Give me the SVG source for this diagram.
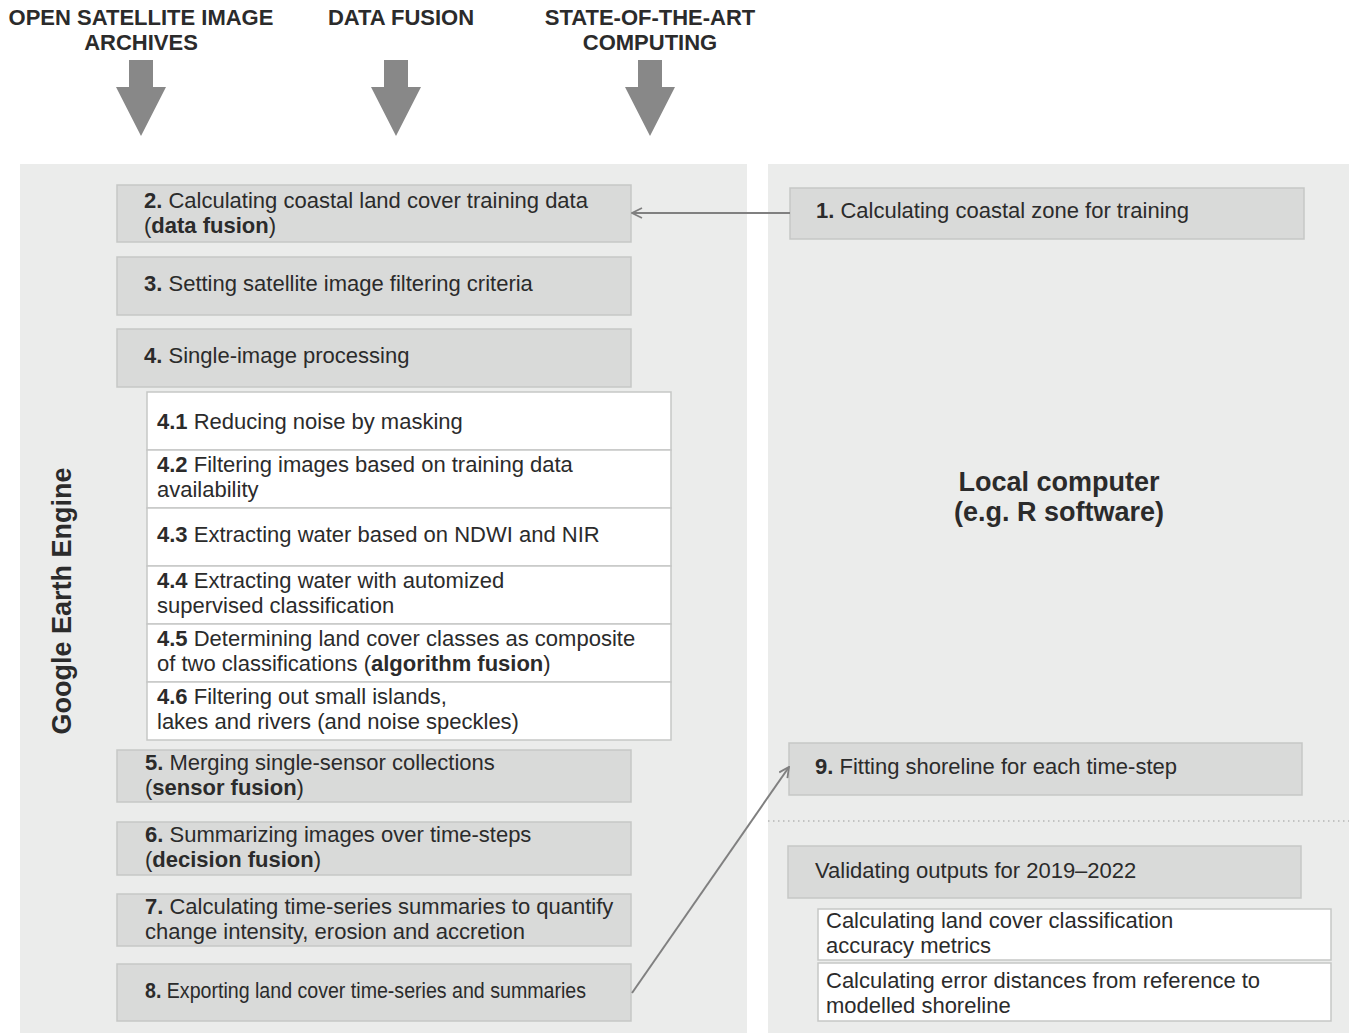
<svg xmlns="http://www.w3.org/2000/svg" width="1349" height="1033" viewBox="0 0 1349 1033">
<defs>
<style>
.t{font-family:"Liberation Sans",Arial,sans-serif;font-size:22px;fill:#2b2b2b}
.b{font-weight:bold}
.h{font-family:"Liberation Sans",Arial,sans-serif;font-size:22px;font-weight:bold;fill:#2b2b2b;text-anchor:middle}
.box{fill:#d9dad9;stroke:#c6c7c6;stroke-width:1.5}
.sub{fill:#ffffff;stroke:#c6c7c6;stroke-width:1.5}
.panel{fill:#ebeceb}
.big{fill:#888888}
.con{stroke:#808080;stroke-width:2;fill:none}
</style>
<marker id="open" viewBox="0 0 12 12" refX="11" refY="6" markerWidth="12" markerHeight="12" markerUnits="userSpaceOnUse" orient="auto">
<path d="M1,1 L11,6 L1,11" fill="none" stroke="#808080" stroke-width="1.8"/>
</marker>
</defs>
<rect width="1349" height="1033" fill="#ffffff"/>

<g id="headers">
<text class="h" x="141" y="25">OPEN SATELLITE IMAGE</text>
<text class="h" x="141" y="50">ARCHIVES</text>
<text class="h" x="401" y="25">DATA FUSION</text>
<text class="h" x="650" y="25">STATE-OF-THE-ART</text>
<text class="h" x="650" y="50">COMPUTING</text>
</g>
<g id="big-arrows">
<path class="big" d="M129,60 H153 V87 H166 L141,136 L116,87 H129 Z"/>
<path class="big" d="M384,60 H408 V87 H421 L396,136 L371,87 H384 Z"/>
<path class="big" d="M638,60 H662 V87 H675 L650,136 L625,87 H638 Z"/>
</g>

<g id="panel-gee">
<rect class="panel" x="20" y="164" width="727" height="869"/>
<text class="t b" transform="translate(71,601) rotate(-90)" text-anchor="middle" style="font-size:27px">Google Earth Engine</text>
</g>
<g id="panel-local">
<rect class="panel" x="768" y="164" width="581" height="869"/>
<text class="t b" x="1059" y="491" text-anchor="middle" style="font-size:27px">Local computer</text>
<text class="t b" x="1059" y="521" text-anchor="middle" style="font-size:27px">(e.g. R software)</text>
<line x1="768" y1="821" x2="1349" y2="821" stroke="#9a9a9a" stroke-width="1.2" stroke-dasharray="1.5,3.5"/>
</g>

<g id="n2"><rect class="box" x="117" y="185" width="514" height="57"/>
<text class="t" x="144" y="208"><tspan class="b">2.</tspan> Calculating coastal land cover training data</text>
<text class="t" x="144" y="233">(<tspan class="b">data fusion</tspan>)</text></g>
<g id="n3"><rect class="box" x="117" y="257" width="514" height="58"/>
<text class="t" x="144" y="291"><tspan class="b">3.</tspan> Setting satellite image filtering criteria</text></g>
<g id="n4"><rect class="box" x="117" y="329" width="514" height="58"/>
<text class="t" x="144" y="363"><tspan class="b">4.</tspan> Single-image processing</text></g>

<g id="n4-1"><rect class="sub" x="147" y="392" width="524" height="58"/>
<text class="t" x="157" y="429"><tspan class="b">4.1</tspan> Reducing noise by masking</text></g>
<g id="n4-2"><rect class="sub" x="147" y="450" width="524" height="58"/>
<text class="t" x="157" y="472"><tspan class="b">4.2</tspan> Filtering images based on training data</text>
<text class="t" x="157" y="497">availability</text></g>
<g id="n4-3"><rect class="sub" x="147" y="508" width="524" height="58"/>
<text class="t" x="157" y="542"><tspan class="b">4.3</tspan> Extracting water based on NDWI and NIR</text></g>
<g id="n4-4"><rect class="sub" x="147" y="566" width="524" height="58"/>
<text class="t" x="157" y="588"><tspan class="b">4.4</tspan> Extracting water with automized</text>
<text class="t" x="157" y="613">supervised classification</text></g>
<g id="n4-5"><rect class="sub" x="147" y="624" width="524" height="58"/>
<text class="t" x="157" y="646"><tspan class="b">4.5</tspan> Determining land cover classes as composite</text>
<text class="t" x="157" y="671">of two classifications (<tspan class="b">algorithm fusion</tspan>)</text></g>
<g id="n4-6"><rect class="sub" x="147" y="682" width="524" height="58"/>
<text class="t" x="157" y="704"><tspan class="b">4.6</tspan> Filtering out small islands,</text>
<text class="t" x="157" y="729">lakes and rivers (and noise speckles)</text></g>

<g id="n5"><rect class="box" x="117" y="750" width="514" height="52"/>
<text class="t" x="145" y="770"><tspan class="b">5.</tspan> Merging single-sensor collections</text>
<text class="t" x="145" y="795">(<tspan class="b">sensor fusion</tspan>)</text></g>
<g id="n6"><rect class="box" x="117" y="822" width="514" height="53"/>
<text class="t" x="145" y="842"><tspan class="b">6.</tspan> Summarizing images over time-steps</text>
<text class="t" x="145" y="867">(<tspan class="b">decision fusion</tspan>)</text></g>
<g id="n7"><rect class="box" x="117" y="894" width="514" height="52"/>
<text class="t" x="145" y="914"><tspan class="b">7.</tspan> Calculating time-series summaries to quantify</text>
<text class="t" x="145" y="939">change intensity, erosion and accretion</text></g>
<g id="n8"><rect class="box" x="117" y="964" width="514" height="57"/>
<text class="t" x="145" y="998" textLength="441" lengthAdjust="spacingAndGlyphs"><tspan class="b">8.</tspan> Exporting land cover time-series and summaries</text></g>

<g id="n1"><rect class="box" x="790" y="188" width="514" height="51"/>
<text class="t" x="816" y="218"><tspan class="b">1.</tspan> Calculating coastal zone for training</text></g>
<g id="n9"><rect class="box" x="789" y="743" width="513" height="52"/>
<text class="t" x="815" y="774"><tspan class="b">9.</tspan> Fitting shoreline for each time-step</text></g>
<g id="nv"><rect class="box" x="788" y="846" width="513" height="52"/>
<text class="t" x="815" y="878">Validating outputs for 2019–2022</text></g>
<g id="nv1"><rect class="sub" x="818" y="909" width="513" height="51"/>
<text class="t" x="826" y="928">Calculating land cover classification</text>
<text class="t" x="826" y="953">accuracy metrics</text></g>
<g id="nv2"><rect class="sub" x="818" y="963" width="513" height="58"/>
<text class="t" x="826" y="988">Calculating error distances from reference to</text>
<text class="t" x="826" y="1013">modelled shoreline</text></g>

<g id="connectors">
<line class="con" x1="790" y1="213" x2="632" y2="213" marker-end="url(#open)"/>
<line class="con" x1="632" y1="993" x2="789" y2="767" marker-end="url(#open)"/>
</g>
</svg>
